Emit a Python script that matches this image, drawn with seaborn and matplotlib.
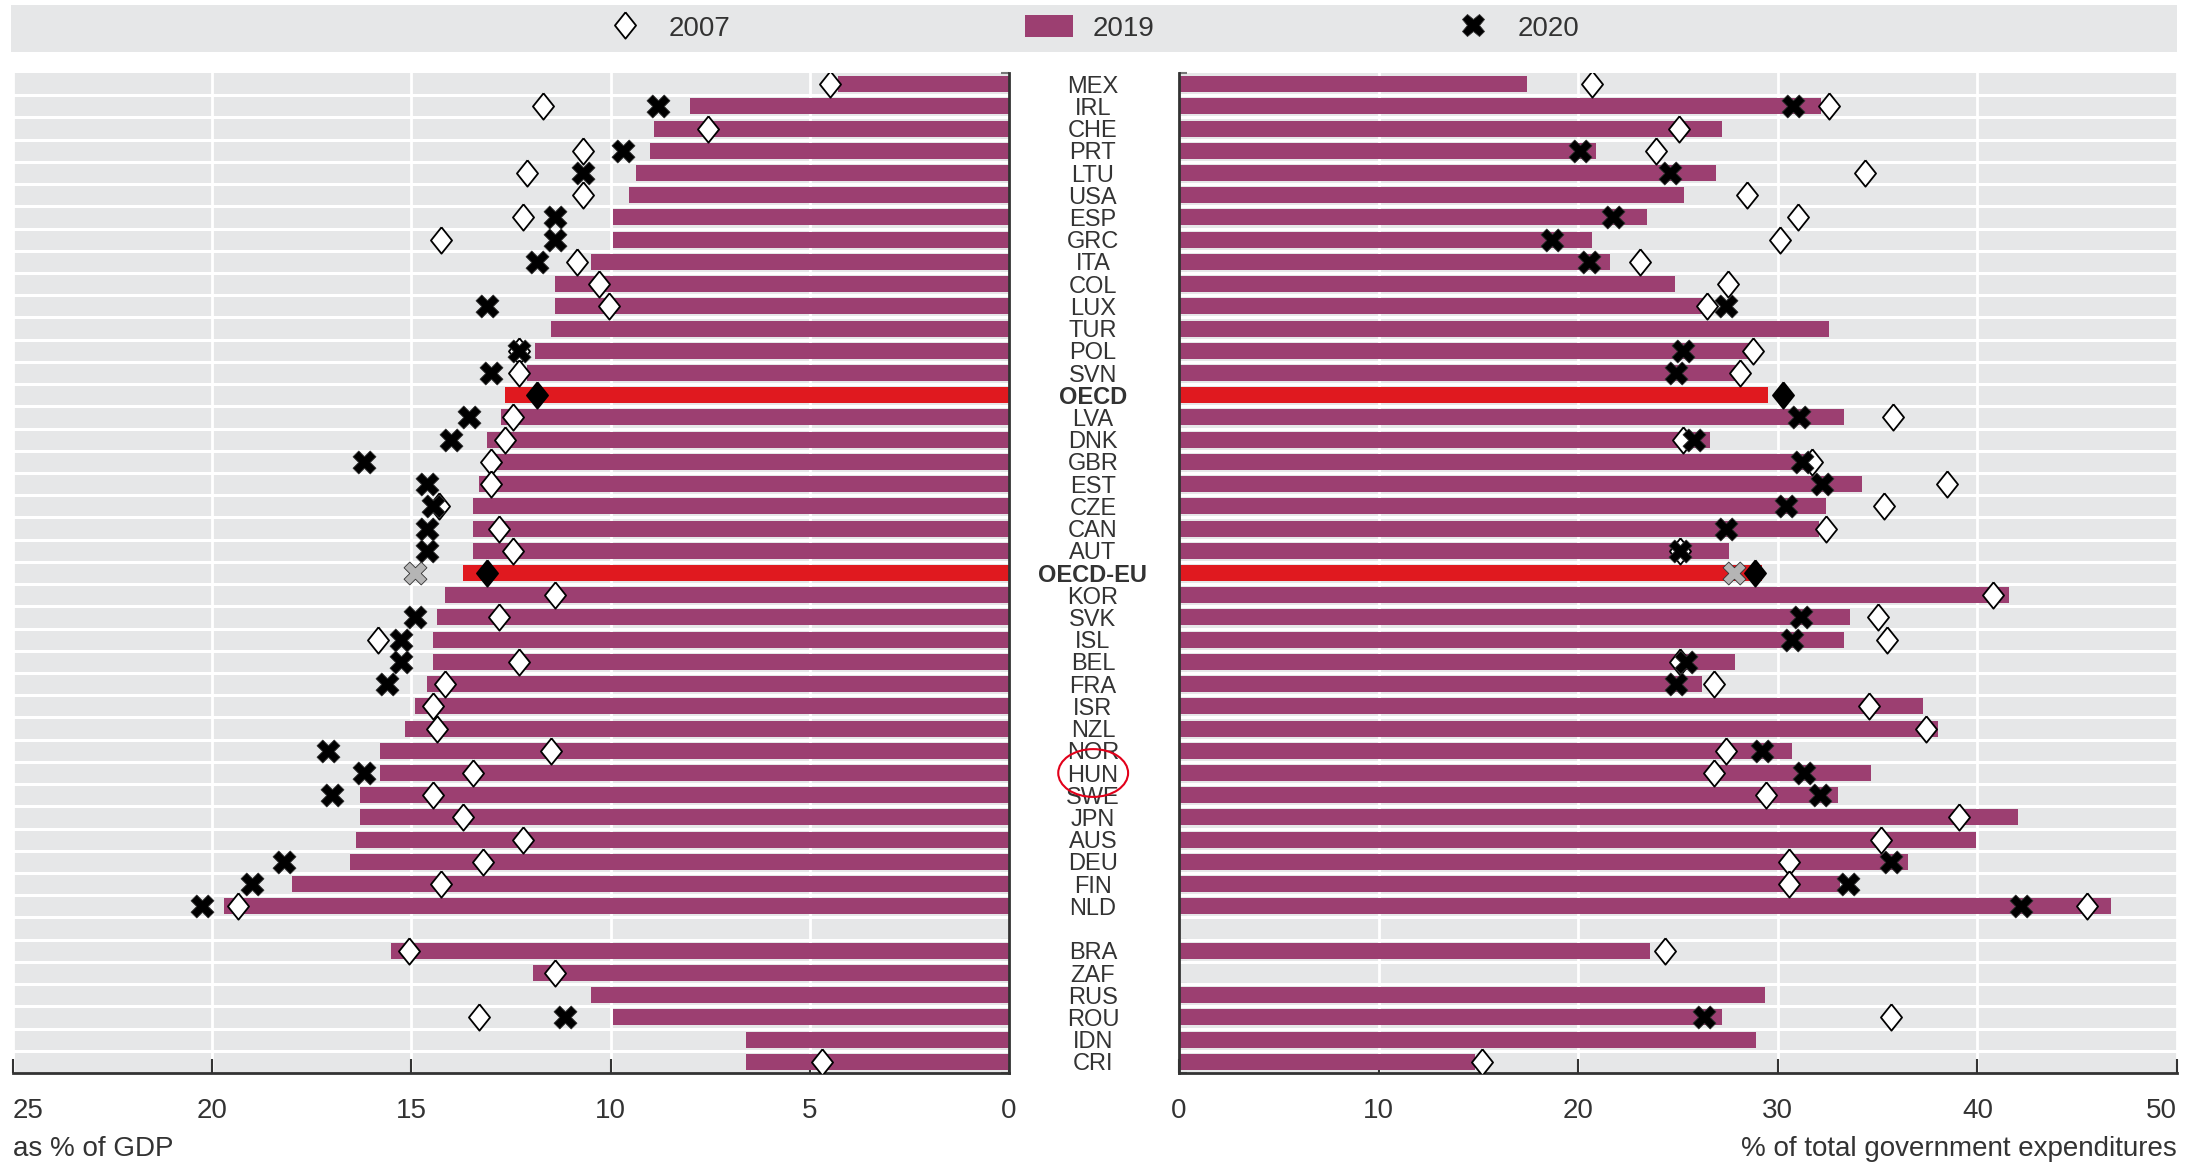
import numpy as np
import pandas as pd
import seaborn as sns
import matplotlib.pyplot as plt
from matplotlib.lines import Line2D
from matplotlib.patches import Patch, Ellipse
from matplotlib.ticker import FixedLocator
from matplotlib.transforms import blended_transform_factory

nan = np.nan

# Countries top to bottom ("" is the empty row before the partner countries)
countries = ['MEX', 'IRL', 'CHE', 'PRT', 'LTU', 'USA', 'ESP', 'GRC', 'ITA', 'COL',
             'LUX', 'TUR', 'POL', 'SVN', 'OECD', 'LVA', 'DNK', 'GBR', 'EST', 'CZE',
             'CAN', 'AUT', 'OECD-EU', 'KOR', 'SVK', 'ISL', 'BEL', 'FRA', 'ISR', 'NZL',
             'NOR', 'HUN', 'SWE', 'JPN', 'AUS', 'DEU', 'FIN', 'NLD', '',
             'BRA', 'ZAF', 'RUS', 'ROU', 'IDN', 'CRI']
averages = ['OECD', 'OECD-EU']

# as % of GDP
gdp_2019 = [4.3, 8.0, 8.9, 9.0, 9.35, 9.55, 9.95, 9.95, 10.5, 11.4,
            11.4, 11.5, 11.9, 12.1, 12.65, 12.75, 13.1, 13.0, 13.3, 13.45,
            13.45, 13.45, 13.7, 14.15, 14.35, 14.45, 14.45, 14.6, 14.9, 15.15,
            15.8, 15.8, 16.3, 16.3, 16.4, 16.55, 18.0, 19.7, nan,
            15.5, 11.95, 10.5, 9.95, 6.6, 6.6]
gdp_2007 = [4.5, 11.7, 7.55, 10.7, 12.1, 10.7, 12.2, 14.25, 10.85, 10.3,
            10.05, nan, 12.3, 12.3, 11.85, 12.45, 12.65, 13.0, 13.0, 14.3,
            12.8, 12.45, 13.1, 11.4, 12.8, 15.85, 12.3, 14.15, 14.45, 14.35,
            11.5, 13.45, 14.45, 13.7, 12.2, 13.2, 14.25, 19.35, nan,
            15.05, 11.4, nan, 13.3, nan, 4.7]
gdp_2020 = [nan, 8.8, nan, 9.7, 10.7, nan, 11.4, 11.4, 11.85, nan,
            13.1, nan, 12.3, 13.0, nan, 13.55, 14.0, 16.2, 14.6, 14.45,
            14.6, 14.6, 14.9, nan, 14.9, 15.25, 15.25, 15.6, nan, nan,
            17.1, 16.2, 17.0, nan, nan, 18.2, 19.0, 20.25, nan,
            nan, nan, nan, 11.15, nan, nan]

# % of total government expenditures
exp_2019 = [17.45, 32.15, 27.2, 20.9, 26.9, 25.3, 23.45, 20.7, 21.6, 24.85,
            26.4, 32.55, 28.55, 27.9, 29.5, 33.3, 26.6, 31.95, 34.2, 32.4,
            32.05, 27.55, 29.2, 41.6, 33.6, 33.3, 27.85, 26.2, 37.25, 38.05,
            30.7, 34.65, 33.0, 42.05, 39.95, 36.5, 33.1, 46.7, nan,
            23.6, nan, 29.35, 27.2, 28.9, 14.85]
exp_2007 = [20.7, 32.55, 25.05, 23.9, 34.35, 28.45, 31.0, 30.1, 23.1, 27.5,
            26.45, nan, 28.75, 28.1, 30.25, 35.75, 25.25, 31.7, 38.5, 35.3,
            32.4, 25.1, 28.85, 40.8, 35.0, 35.45, 25.1, 26.8, 34.55, 37.4,
            27.4, 26.8, 29.4, 39.1, 35.15, 30.55, 30.55, 45.5, nan,
            24.35, nan, nan, 35.65, nan, 15.2]
exp_2020 = [nan, 30.75, nan, 20.1, 24.6, nan, 21.75, 18.7, 20.55, nan,
            27.4, nan, 25.25, 24.9, nan, 31.05, 25.8, 31.2, 32.2, 30.4,
            27.4, 25.1, 27.8, nan, 31.15, 30.7, 25.4, 24.9, nan, nan,
            29.2, 31.3, 32.1, nan, nan, 35.65, 33.5, 42.2, nan,
            nan, nan, nan, 26.3, nan, nan]

PURPLE = '#9c3f71'
RED = '#e0191f'
BAND = '#e6e7e8'
INK = '#333333'
DIAMOND = [(0, 1), (0.8, 0), (0, -1), (-0.8, 0), (0, 1)]

plt.rcParams['font.family'] = ['Liberation Sans', 'DejaVu Sans']
NARROW = ['Liberation Sans Narrow', 'Liberation Sans', 'DejaVu Sans']

df = pd.DataFrame({'country': countries,
                   'gdp_2019': gdp_2019, 'gdp_2007': gdp_2007, 'gdp_2020': gdp_2020,
                   'exp_2019': exp_2019, 'exp_2007': exp_2007, 'exp_2020': exp_2020})

bar_pal = {c: (RED if c in averages else PURPLE) for c in countries}
dia_pal = {c: ('black' if c in averages else 'white') for c in countries}
x_pal = {c: ('#b5b5b5' if c in averages else 'black') for c in countries}

fig = plt.figure(figsize=(22, 11.63), dpi=100)
axL = fig.add_axes([13 / 2200, 90 / 1163, 996 / 2200, 1000 / 1163])
axR = fig.add_axes([1179 / 2200, 90 / 1163, 998 / 2200, 1000 / 1163])

n = len(countries)


def draw_panel(ax, prefix):
    ax.set_facecolor(BAND)
    sns.barplot(data=df, x=prefix + '_2019', y='country', order=countries,
                hue='country', palette=bar_pal, saturation=1, width=0.72,
                errorbar=None, legend=False, ax=ax, zorder=2)
    sns.stripplot(data=df, x=prefix + '_2007', y='country', order=countries,
                  hue='country', palette=dia_pal, jitter=False, marker=DIAMOND,
                  size=19, edgecolor='black', linewidth=1.3, legend=False,
                  ax=ax, zorder=3)
    sns.stripplot(data=df, x=prefix + '_2020', y='country', order=countries,
                  hue='country', palette=x_pal, jitter=False, marker='X',
                  size=16.5, edgecolor=INK, linewidth=0.6, legend=False,
                  ax=ax, zorder=4)
    # white separators between the rows and white vertical grid
    for i in range(n - 1):
        ax.axhline(i + 0.5, color='white', lw=2.2, zorder=1)
    ax.set_axisbelow(True)
    ax.xaxis.grid(True, color='white', lw=2)
    ax.yaxis.grid(False)
    ax.set_ylim(n - 0.5, -0.5)
    ax.set_ylabel('')
    ax.yaxis.set_minor_locator(FixedLocator(np.arange(-0.5, n, 1)))
    ax.tick_params(axis='y', which='minor', direction='in', length=6, width=1.5,
                   color='#777777')
    ax.tick_params(axis='x', direction='in', length=10, width=1.5, color=INK,
                   labelsize=20, labelcolor=INK, pad=18)
    ax.spines['top'].set_visible(False)
    ax.spines['bottom'].set_color(INK)
    ax.spines['bottom'].set_linewidth(2)


draw_panel(axL, 'gdp')
draw_panel(axR, 'exp')

# left panel: 25 -> 0, axis line on the right, no row labels
axL.set_xlim(25, 0)
axL.set_xticks(range(0, 26, 5))
axL.spines['left'].set_visible(False)
axL.spines['right'].set_color(INK)
axL.spines['right'].set_linewidth(2)
axL.yaxis.set_ticks_position('right')
axL.tick_params(axis='y', which='major', length=0, labelright=False, labelleft=False)
axL.get_xticklabels()[-1].set_ha('left')
axL.set_xlabel('as % of GDP', loc='left', fontsize=20, color=INK, labelpad=9)

# right panel: 0 -> 50, row labels centred between panels
axR.set_xlim(0, 50)
axR.set_xticks(range(0, 51, 10))
axR.spines['right'].set_visible(False)
axR.spines['left'].set_color(INK)
axR.spines['left'].set_linewidth(2)
axR.set_yticks(range(n))
axR.set_yticklabels(countries, ha='center', family=NARROW, fontsize=17, color=INK)
axR.tick_params(axis='y', which='major', length=0, pad=62)
for lbl in axR.get_yticklabels():
    if lbl.get_text() in averages:
        lbl.set_fontweight('bold')
axR.get_xticklabels()[-1].set_ha('right')
axR.set_xlabel('% of total government expenditures', loc='right', fontsize=20,
               color=INK, labelpad=9)

# red circle around HUN
trans = blended_transform_factory(axR.transAxes, axR.transData)
axR.add_patch(Ellipse((-0.086, countries.index('HUN')), 0.07, 2.15, transform=trans,
                      fill=False, ec='#e2001a', lw=1.5, clip_on=False))

# legend band
axLeg = fig.add_axes([11 / 2200, 1 - 52 / 1163, 2166 / 2200, 47 / 1163])
axLeg.set_facecolor(BAND)
axLeg.set_xticks([])
axLeg.set_yticks([])
for s in axLeg.spines.values():
    s.set_visible(False)
handles = [Line2D([], [], marker=DIAMOND, ls='', mfc='white', mec='black', mew=1.3, ms=19),
           Patch(facecolor=PURPLE),
           Line2D([], [], marker='X', ls='', mfc='black', mec=INK, mew=0.6, ms=16.5)]
axLeg.legend(handles, ['2007', '2019', '2020'], loc='center', bbox_to_anchor=(0.498, 0.5),
             ncol=3, frameon=False, fontsize=20, labelcolor=INK, handlelength=1.75,
             handleheight=0.85, handletextpad=0.7, columnspacing=10.6)

fig.savefig('out.png', dpi=100)
